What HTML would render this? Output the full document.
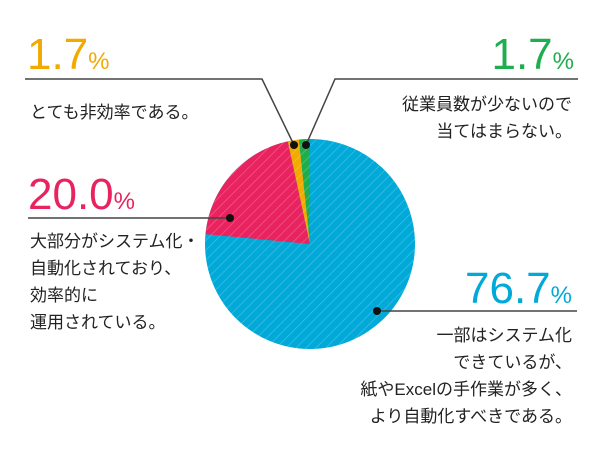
<!DOCTYPE html>
<html><head><meta charset="utf-8"><style>
body{margin:0;background:#fff;}
svg{display:block;font-family:"Liberation Sans","Noto Sans CJK JP",sans-serif;}
</style></head><body>
<svg width="600" height="450" viewBox="0 0 600 450">
<defs>
<pattern id="h" width="7" height="7" patternUnits="userSpaceOnUse" patternTransform="rotate(45)">
<rect width="7" height="7" fill="none"/><line x1="0" y1="0" x2="0" y2="7" stroke="#fff" stroke-opacity="0.25" stroke-width="1.5"/>
</pattern>
</defs>
<g>
<circle cx="310" cy="244" r="105" fill="#00a9d8"/>
<!-- pink from -84.6 to -12.2 -->
<path d="M310,244 L205.5,234.1 A105,105 0 0 1 287.8,141.4 Z" fill="#e8235f"/>
<path d="M310,244 L287.8,141.4 A105,105 0 0 1 299.0,139.6 Z" fill="#f2a900"/>
<path d="M310,244 L299.0,139.6 A105,105 0 0 1 310,139 Z" fill="#1eae4e"/>
<circle cx="310" cy="244" r="105" fill="url(#h)"/>
</g>
<g stroke="#444" stroke-width="1.5" fill="none">
<polyline points="25,79 262,79 294,145"/>
<polyline points="578,79 335,79 306,145"/>
<line x1="28" y1="218" x2="230" y2="218"/>
<line x1="377" y1="311" x2="577" y2="311"/>
</g>
<g fill="#111">
<circle cx="294" cy="145" r="4"/><circle cx="306" cy="145" r="4"/>
<circle cx="230" cy="218" r="4"/><circle cx="377" cy="311" r="4"/>
</g>
<text x="27" y="69" font-size="44" fill="#f2a900">1.7<tspan font-size="24">%</tspan></text>
<text x="574" y="69" font-size="44" fill="#1eae4e" text-anchor="end">1.7<tspan font-size="24">%</tspan></text>
<text x="28" y="209" font-size="44" fill="#e8235f">20.0<tspan font-size="24">%</tspan></text>
<text x="572" y="303" font-size="44" fill="#00a9d8" text-anchor="end">76.7<tspan font-size="24">%</tspan></text>
<g font-size="17" fill="#222">
<text x="30" y="118">とても非効率である。</text>
<text x="572" y="110" text-anchor="end">従業員数が少ないので</text>
<text x="572" y="137" text-anchor="end">当てはまらない。</text>
<text x="30" y="247">大部分がシステム化・</text>
<text x="30" y="274">自動化されており、</text>
<text x="30" y="301">効率的に</text>
<text x="30" y="328">運用されている。</text>
<text x="572" y="341" text-anchor="end">一部はシステム化</text>
<text x="572" y="368" text-anchor="end">できているが、</text>
<text x="572" y="395" text-anchor="end">紙やExcelの手作業が多く、</text>
<text x="572" y="422" text-anchor="end">より自動化すべきである。</text>
</g>
</svg>
</body></html>
